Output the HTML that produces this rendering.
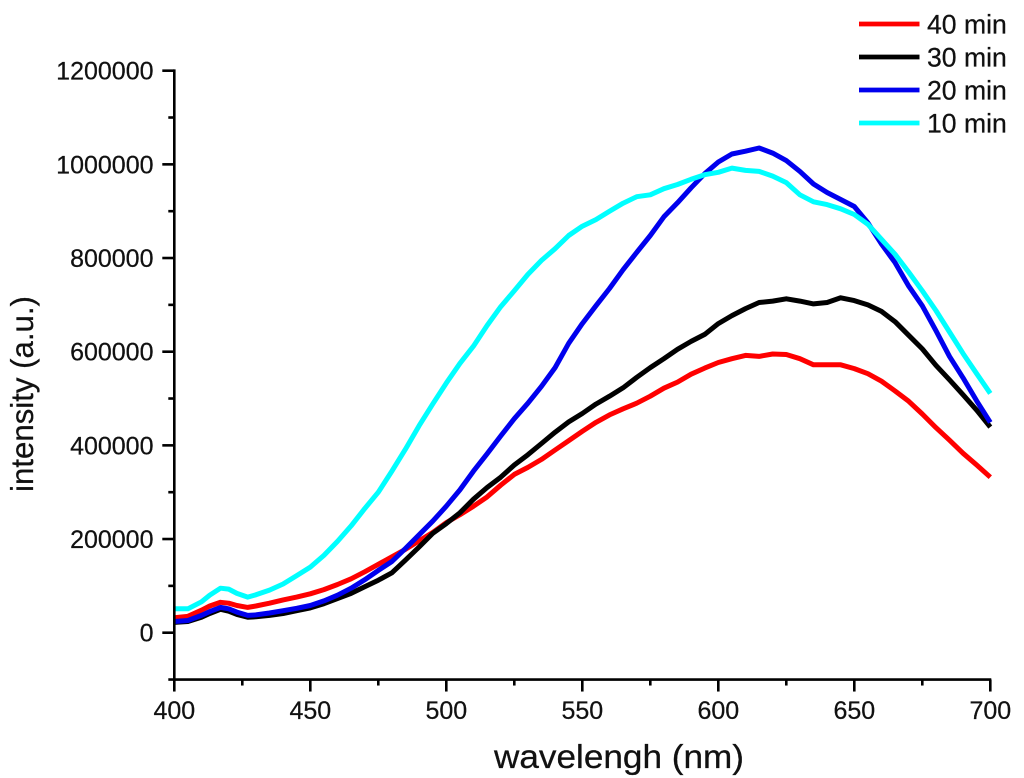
<!DOCTYPE html>
<html lang="en">
<head>
<meta charset="utf-8">
<title>Intensity vs wavelength</title>
<style>
html,body{margin:0;padding:0;background:#fff;}
svg{display:block;font-family:"Liberation Sans",Arial,sans-serif;fill:#111;}
text{stroke:#111;stroke-width:0.25px;}
</style>
</head>
<body>
<svg id="chart" width="1024" height="778" viewBox="0 0 1024 778" xmlns="http://www.w3.org/2000/svg">
  <rect x="0" y="0" width="1024" height="778" fill="#ffffff"/>
  <g id="series"></g>
  <g id="axes"></g>
  <text x="619" y="768" font-size="33" text-anchor="middle" textLength="250" lengthAdjust="spacingAndGlyphs">wavelengh (nm)</text>
  <text transform="translate(33,394) rotate(-90)" font-size="31.2" text-anchor="middle">intensity (a.u.)</text>
  <g id="legend"></g>
</svg>
<script>
const wavelengths = [400,405,410,413,417,420,423,427,430,435,440,445,450,455,460,465,470,475,480,485,490,495,500,505,510,515,520,525,530,535,540,545,550,555,560,565,570,575,580,585,590,595,600,605,610,615,620,625,630,635,640,645,650,655,660,665,670,675,680,685,690,695,700];
const min40 = [32000,35000,48000,57000,65000,63000,58000,54000,57000,63000,70000,76000,83000,92000,103000,115000,130000,146000,162000,178000,196000,214000,235000,252000,270000,290000,315000,338000,353000,370000,390000,410000,430000,449000,465000,478000,490000,505000,522000,535000,552000,565000,577000,585000,592000,590000,595000,594000,585000,572000,572000,572000,564000,553000,537000,516000,494000,467000,438000,411000,383000,358000,332000];
const min30 = [22000,24000,33000,41000,50000,46000,39000,33000,34000,37000,41000,47000,53000,62000,73000,84000,98000,112000,128000,155000,183000,212000,233000,256000,285000,310000,332000,358000,380000,404000,428000,450000,468000,488000,505000,523000,545000,566000,585000,605000,622000,637000,660000,677000,692000,705000,708000,713000,708000,702000,705000,715000,709000,700000,686000,664000,635000,606000,571000,540000,508000,475000,439000];
const min20 = [24000,26000,37000,45000,54000,51000,44000,37000,38000,42000,47000,52000,58000,68000,80000,95000,113000,133000,152000,180000,209000,238000,270000,305000,345000,382000,420000,457000,490000,526000,566000,618000,660000,698000,735000,775000,812000,848000,888000,918000,950000,980000,1005000,1022000,1028000,1035000,1024000,1008000,985000,958000,940000,925000,910000,875000,830000,790000,740000,698000,645000,590000,544000,495000,449000];
const min10 = [51000,51000,66000,80000,95000,93000,84000,76000,81000,91000,104000,122000,140000,165000,195000,228000,265000,300000,345000,392000,442000,488000,533000,575000,612000,656000,696000,730000,765000,795000,820000,848000,868000,882000,900000,917000,931000,935000,948000,957000,968000,978000,983000,992000,987000,985000,975000,961000,935000,920000,914000,905000,893000,872000,840000,808000,770000,730000,688000,642000,596000,553000,511000];
const seriesLabels = ["40 min","30 min","20 min","10 min"];
const seriesColors = ["#ff0000","#000000","#0000ee","#00ffff"];
const xTicks = [400,450,500,550,600,650,700];
const xMinorTicks = [425,475,525,575,625,675];
const yTicks = [0,200000,400000,600000,800000,1000000,1200000];
const yMinorTicks = [-100000,100000,300000,500000,700000,900000,1100000];

const NS = "http://www.w3.org/2000/svg";
const seriesValues = [min40,min30,min20,min10];
const xScale = function (w) { return 174.3 + (w - 400) * 2.72; };
const yScale = function (v) { return 632.7 - v * 93.67 / 200000; };

function make(tag, parent, props) {
  const el = document.createElementNS(NS, tag);
  Object.keys(props).forEach(function (k) { el.setAttribute(k, props[k]); });
  parent.appendChild(el);
  return el;
}

const seriesGroup = document.getElementById("series");
const axesGroup = document.getElementById("axes");
const legendGroup = document.getElementById("legend");

seriesValues.forEach(function (vals, i) {
  const pts = vals.map(function (v, j) {
    return xScale(wavelengths[j]).toFixed(1) + "," + yScale(v).toFixed(1);
  }).join(" ");
  const line = make("polyline", seriesGroup, {points: pts, fill: "none", stroke: seriesColors[i], "stroke-width": 5, "stroke-linejoin": "round"});
  
  
});

const yAxisLine = make("line", axesGroup, {x1: xScale(400), x2: xScale(400), y1: yScale(1200000) - 1.3, y2: yScale(-100000) + 1.3, stroke: "#000", "stroke-width": 2.6});


const xAxisLine = make("line", axesGroup, {x1: xScale(400), x2: xScale(700) + 1, y1: yScale(-100000), y2: yScale(-100000), stroke: "#000", "stroke-width": 2.6});



xTicks.forEach(function (t) {
  const x = xScale(t), y0 = yScale(-100000);
  const tick = make("line", axesGroup, {x1: x, x2: x, y1: y0, y2: y0 + 12, stroke: "#000", "stroke-width": 2.6});
  
  
  const label = make("text", axesGroup, {x: x, y: 719, "font-size": 25, "text-anchor": "middle"});
  label.textContent = String(t);
  
  
});
xMinorTicks.forEach(function (t) {
  const x = xScale(t), y0 = yScale(-100000);
  const tick = make("line", axesGroup, {x1: x, x2: x, y1: y0, y2: y0 + 6, stroke: "#000", "stroke-width": 2.6});
  
  
});
yTicks.forEach(function (t) {
  const y = yScale(t), x0 = xScale(400);
  const tick = make("line", axesGroup, {x1: x0 - 12, x2: x0, y1: y, y2: y, stroke: "#000", "stroke-width": 2.6});
  
  
  const label = make("text", axesGroup, {x: 153.5, y: y + 9, "font-size": 25, "text-anchor": "end"});
  label.textContent = String(t);
  
  
});
yMinorTicks.forEach(function (t) {
  const y = yScale(t), x0 = xScale(400);
  const tick = make("line", axesGroup, {x1: x0 - 6, x2: x0, y1: y, y2: y, stroke: "#000", "stroke-width": 2.6});
  
  
});

seriesLabels.forEach(function (name, i) {
  const y = 24 + i * 33;
  const swatch = make("line", legendGroup, {x1: 859, x2: 919.5, y1: y, y2: y, stroke: seriesColors[i], "stroke-width": 4.8});
  
  
  const label = make("text", legendGroup, {x: 927, y: y + 9.5, "font-size": 26.6});
  label.textContent = name;
  
  
});
</script>
</body>
</html>
